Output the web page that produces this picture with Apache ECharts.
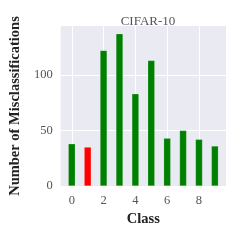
<!DOCTYPE html>
<html><head><meta charset="utf-8">
<script src="https://cdn.jsdelivr.net/npm/echarts@6/dist/echarts.min.js"></script>
<style>html,body{margin:0;padding:0;background:#fff}#c{width:240px;height:240px}</style>
</head><body><div id="c"></div>
<script>
const classes = [0,1,2,3,4,5,6,7,8,9];
const misclass = [38,35,122,137,83,113,43,50,42,36];
const highlightClass = 1;
const xTicks = [0,2,4,6,8];
const yTicks = [0,50,100];
const FONT = 'Liberation Serif';
const chart = echarts.init(document.getElementById('c'));
chart.setOption({
  animation:false,
  backgroundColor:'#fff',
  title:{text:'CIFAR-10',left:143,top:10,textAlign:'center',textStyle:{fontFamily:FONT,fontSize:13,fontWeight:'normal',color:'#555'}},
  grid:{left:60,right:14,top:26,bottom:54,show:true,backgroundColor:'#EAEAF2',borderWidth:0},
  xAxis:{type:'value',min:-0.7,max:9.7,
    name:'Class',nameLocation:'middle',nameGap:26,
    nameTextStyle:{fontFamily:FONT,fontSize:14.5,fontWeight:'bold',color:'#222'},
    axisLine:{show:false},axisTick:{show:false,customValues:xTicks},
    axisLabel:{customValues:xTicks,fontFamily:FONT,fontSize:12.5,color:'#555',margin:8},
    splitLine:{show:true,customValues:xTicks,lineStyle:{color:'#fff',width:1}}},
  yAxis:{type:'value',min:0,max:144,
    name:'Number of Misclassifications',nameLocation:'middle',nameGap:30,
    nameTextStyle:{fontFamily:FONT,fontSize:14.5,fontWeight:'bold',color:'#222'},
    axisLine:{show:false},axisTick:{show:false,customValues:yTicks},
    axisLabel:{customValues:yTicks,fontFamily:FONT,fontSize:12.5,color:'#555',margin:8},
    splitLine:{show:true,customValues:yTicks,lineStyle:{color:'#fff',width:1}}},
  series:[{type:'bar',barWidth:7,
    data:classes.map((c,i)=>({value:[c,misclass[i]],itemStyle:{color:c===highlightClass?'#FF0000':'#008000'}})),
    itemStyle:{borderColor:'rgba(255,255,255,0.35)',borderWidth:0.5}}]
});
</script></body></html>
